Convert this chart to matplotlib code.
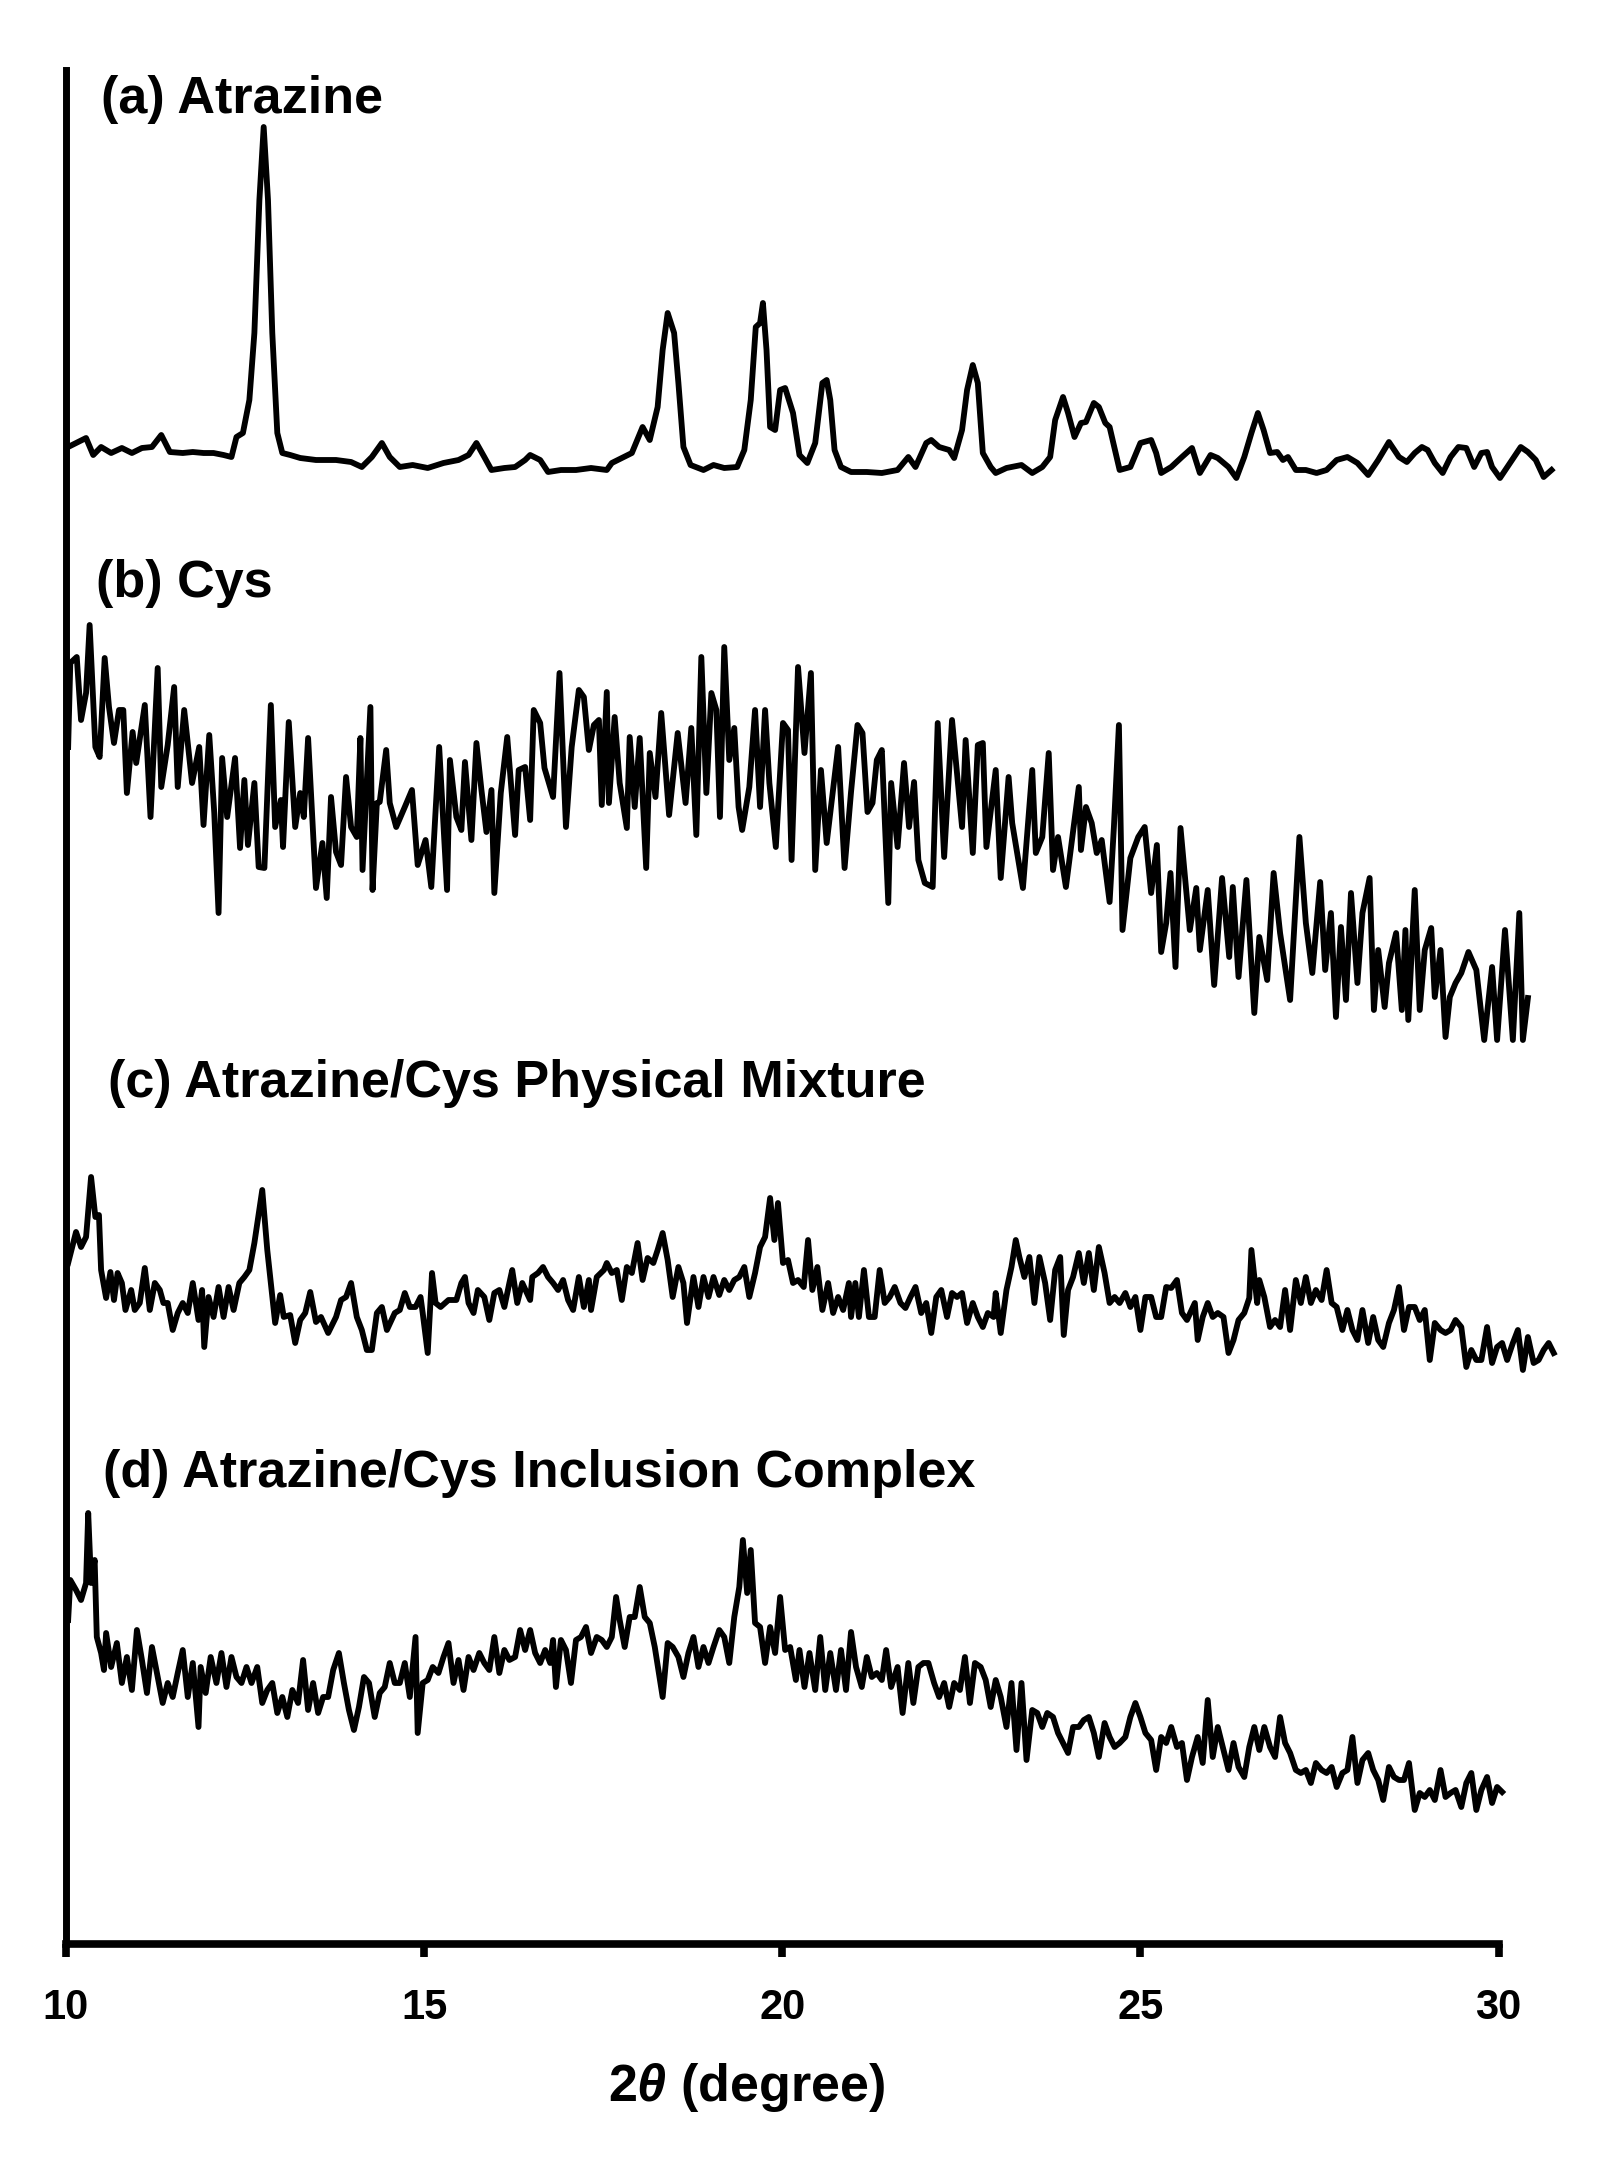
import numpy as np
import matplotlib
matplotlib.use("Agg")
import matplotlib.pyplot as plt

plt.rcParams['font.family'] = ['Liberation Sans', 'DejaVu Sans']
plt.rcParams['font.weight'] = 'bold'
plt.rcParams['mathtext.fontset'] = 'custom'
plt.rcParams['mathtext.rm'] = 'Liberation Sans:bold'
plt.rcParams['mathtext.it'] = 'Liberation Sans:italic:bold'
plt.rcParams['mathtext.bf'] = 'Liberation Sans:bold'

# XRD patterns (intensity in a.u., stacked with offsets)
tt_a = [10.03, 10.28, 10.38, 10.49, 10.63, 10.78, 10.92, 11.06, 11.20, 11.33, 11.45, 11.63, 11.77, 11.92,
        12.06, 12.20, 12.31, 12.38, 12.47, 12.56, 12.63, 12.70, 12.76, 12.82, 12.88, 12.95, 13.02, 13.13,
        13.27, 13.49, 13.77, 13.98, 14.13, 14.27, 14.41, 14.52, 14.66, 14.84, 15.05, 15.27, 15.48, 15.62,
        15.73, 15.84, 15.94, 16.12, 16.27, 16.41, 16.48, 16.62, 16.73, 16.91, 17.12, 17.33, 17.55, 17.62,
        17.76, 17.90, 18.05, 18.15, 18.26, 18.33, 18.40, 18.49, 18.55, 18.62, 18.72, 18.90, 19.04, 19.19,
        19.37, 19.47, 19.56, 19.63, 19.69, 19.73, 19.78, 19.83, 19.90, 19.97, 20.04, 20.15, 20.24,
        20.35, 20.46, 20.56, 20.62, 20.67, 20.73, 20.82, 20.96, 21.18, 21.39, 21.61, 21.76, 21.86, 22.01,
        22.08, 22.19, 22.33, 22.40, 22.51, 22.58, 22.66, 22.73, 22.80, 22.91, 22.98, 23.13, 23.34, 23.49,
        23.63, 23.74, 23.81, 23.92, 23.99, 24.08, 24.17, 24.24, 24.35, 24.42, 24.51, 24.57, 24.71, 24.86,
        25.00, 25.15, 25.22, 25.29, 25.43, 25.58, 25.72, 25.83, 25.98, 26.08, 26.23, 26.34, 26.45, 26.55,
        26.64, 26.72, 26.81, 26.91, 26.99, 27.06, 27.17, 27.31, 27.46, 27.60, 27.74, 27.89, 28.03, 28.18,
        28.32, 28.47, 28.61, 28.72, 28.83, 28.93, 29.01, 29.11, 29.22, 29.33, 29.44, 29.55, 29.66, 29.76,
        29.84, 29.91, 30.02, 30.16, 30.31, 30.41, 30.52, 30.63, 30.74]
int_a = [33, 42, 25, 33, 27, 32, 27, 32, 33, 45, 28, 27, 28, 27,
         27, 25, 23, 43, 47, 80, 147, 280, 353, 280, 147, 47, 27, 25,
         22, 20, 20, 18, 13, 23, 37, 23, 13, 15, 12, 17, 20, 25,
         37, 23, 10, 12, 13, 20, 25, 20, 8, 10, 10, 12, 10, 17,
         22, 27, 53, 40, 73, 130, 167, 147, 97, 33, 15, 10, 15, 12,
         13, 30, 80, 153, 157, 177, 130, 53, 50, 90, 92, 67, 25,
         17, 37, 97, 100, 80, 30, 13, 8, 8, 7, 10, 23, 13, 37,
         40, 33, 30, 22, 50, 90, 115, 97, 27, 13, 7, 12, 15, 7,
         13, 23, 60, 83, 67, 43, 57, 58, 77, 73, 57, 53, 10, 13,
         37, 40, 27, 7, 13, 23, 32, 7, 25, 22, 13, 2, 23, 47,
         67, 50, 27, 28, 20, 23, 10, 10, 7, 10, 20, 23, 17, 5,
         20, 38, 23, 18, 27, 33, 30, 17, 7, 23, 33, 32, 13, 27,
         28, 13, 2, 17, 33, 28, 20, 3, 10]

tt_b = [10.03, 10.06, 10.15, 10.21, 10.28, 10.33, 10.41, 10.47, 10.54, 10.60,
        10.67, 10.74, 10.80, 10.85, 10.93, 10.98, 11.10, 11.18, 11.28, 11.33,
        11.42, 11.51, 11.56, 11.65, 11.76, 11.86, 11.92, 12.00, 12.07, 12.13,
        12.18, 12.25, 12.36, 12.43, 12.49, 12.54, 12.63, 12.69, 12.77, 12.86,
        12.92, 13.00, 13.03, 13.11, 13.20, 13.27, 13.32, 13.38, 13.49, 13.58,
        13.64, 13.70, 13.77, 13.84, 13.91, 13.98, 14.06, 14.11, 14.14, 14.25,
        14.28, 14.34, 14.38, 14.47, 14.52, 14.61, 14.73, 14.83, 14.91, 15.02,
        15.10, 15.21, 15.32, 15.36, 15.45, 15.52, 15.57, 15.66, 15.73, 15.80,
        15.87, 15.94, 15.98, 16.07, 16.16, 16.27, 16.32, 16.41, 16.48, 16.53,
        16.62, 16.68, 16.80, 16.89, 16.98, 17.06, 17.16, 17.23, 17.30, 17.37,
        17.44, 17.48, 17.55, 17.58, 17.66, 17.73, 17.83, 17.87, 17.94, 18.01,
        18.10, 18.15, 18.23, 18.31, 18.42, 18.54, 18.65, 18.73, 18.80, 18.87,
        18.94, 19.01, 19.08, 19.13, 19.19, 19.26, 19.33, 19.39, 19.44, 19.54,
        19.62, 19.69, 19.76, 19.82, 19.91, 20.01, 20.08, 20.13, 20.22,
        20.31, 20.40, 20.46, 20.54, 20.62, 20.67, 20.78, 20.87, 20.96, 21.05,
        21.12, 21.19, 21.26, 21.32, 21.39, 21.48, 21.52, 21.61, 21.70, 21.77,
        21.84, 21.90, 21.99, 22.10, 22.17, 22.26, 22.37, 22.51, 22.56, 22.66,
        22.73, 22.80, 22.85, 22.98, 23.05, 23.16, 23.21, 23.36, 23.49, 23.54,
        23.63, 23.72, 23.78, 23.85, 23.96, 24.14, 24.17, 24.24, 24.32, 24.39,
        24.46, 24.57, 24.63, 24.70, 24.75, 24.86, 24.97, 25.06, 25.15, 25.23,
        25.29, 25.36, 25.42, 25.49, 25.56, 25.69, 25.78, 25.83, 25.94, 26.03,
        26.14, 26.24, 26.29, 26.37, 26.48, 26.59, 26.66, 26.77, 26.86, 26.95,
        27.09, 27.22, 27.31, 27.40, 27.51, 27.58, 27.66, 27.73, 27.80, 27.87,
        27.94, 28.03, 28.10, 28.20, 28.26, 28.32, 28.41, 28.47, 28.57, 28.65,
        28.70, 28.74, 28.83, 28.90, 28.97, 29.06, 29.11, 29.19, 29.26, 29.32,
        29.40, 29.48, 29.58, 29.69, 29.80, 29.91, 29.98, 30.09, 30.20, 30.29,
        30.34, 30.41]
int_b = [298, 382, 388, 325, 352, 420, 298, 288, 387, 338,
         302, 335, 335, 252, 313, 282, 340, 228, 377, 258,
         300, 358, 258, 335, 262, 298, 220, 310, 232, 132,
         287, 228, 287, 197, 265, 200, 262, 178, 177, 340,
         218, 245, 198, 323, 218, 252, 228, 307, 157, 202,
         147, 248, 193, 180, 268, 218, 208, 307, 175, 338,
         155, 242, 243, 295, 242, 218, 238, 255, 180, 205,
         158, 298, 155, 285, 228, 215, 283, 205, 302, 255,
         213, 255, 152, 252, 308, 210, 275, 278, 225, 335,
         322, 277, 248, 372, 218, 298, 355, 348, 295, 320,
         325, 240, 353, 242, 328, 262, 217, 308, 238, 307,
         177, 292, 248, 332, 230, 312, 242, 317, 210, 388,
         252, 352, 335, 228, 398, 285, 317, 238, 215, 258,
         335, 238, 335, 262, 198, 322, 315, 185, 378,
         292, 372, 175, 275, 202, 232, 298, 177, 253, 320,
         312, 233, 242, 285, 295, 142, 262, 198, 282, 218,
         263, 185, 162, 158, 322, 188, 325, 218, 305, 192,
         300, 302, 198, 275, 167, 268, 222, 157, 275, 192,
         208, 292, 175, 208, 158, 258, 195, 238, 222, 192,
         205, 143, 218, 320, 115, 187, 208, 218, 152, 200,
         93, 122, 172, 78, 217, 115, 157, 95, 155, 60,
         167, 88, 158, 68, 165, 32, 108, 65, 172, 112,
         45, 208, 122, 72, 163, 75, 132, 28, 118, 45,
         152, 62, 132, 167, 35, 95, 38, 82, 112, 35,
         115, 25, 155, 35, 95, 117, 48, 95, 8, 48,
         62, 72, 93, 75, 5, 78, 5, 115, 5, 132,
         5, 47]

tt_c = [10.03, 10.14, 10.21, 10.28, 10.35, 10.41, 10.46, 10.49, 10.56, 10.62,
        10.67, 10.72, 10.78, 10.83, 10.91, 10.96, 11.03, 11.10, 11.17, 11.24,
        11.31, 11.36, 11.42, 11.49, 11.56, 11.63, 11.70, 11.77, 11.85, 11.90,
        11.93, 11.99, 12.06, 12.13, 12.20, 12.27, 12.34, 12.42, 12.49, 12.56,
        12.63, 12.74, 12.81, 12.87, 12.92, 12.99, 13.04, 13.13, 13.20, 13.27,
        13.34, 13.41, 13.49, 13.56, 13.66, 13.77, 13.84, 13.91, 13.98, 14.06,
        14.13, 14.20, 14.27, 14.34, 14.41, 14.48, 14.59, 14.66, 14.73, 14.80,
        14.88, 14.95, 14.98, 15.05, 15.11, 15.16, 15.23, 15.34, 15.45, 15.52,
        15.57, 15.62, 15.69, 15.75, 15.84, 15.91, 15.98, 16.05, 16.12, 16.19,
        16.23, 16.30, 16.37, 16.48, 16.51, 16.59, 16.66, 16.73, 16.80, 16.87,
        16.94, 17.01, 17.08, 17.16, 17.23, 17.30, 17.33, 17.41, 17.51, 17.55,
        17.62, 17.69, 17.76, 17.83, 17.90, 17.98, 18.05, 18.12, 18.20, 18.26,
        18.33, 18.40, 18.47, 18.55, 18.62, 18.67, 18.76, 18.83, 18.90, 18.97,
        19.04, 19.12, 19.19, 19.26, 19.33, 19.40, 19.47, 19.54, 19.62, 19.69,
        19.76, 19.83, 19.89, 19.94, 20.01, 20.08, 20.15, 20.22,
        20.30, 20.36, 20.42, 20.49, 20.56, 20.64, 20.71, 20.78, 20.85, 20.93,
        20.96, 21.02, 21.07, 21.14, 21.21, 21.29, 21.36, 21.43, 21.50, 21.57,
        21.65, 21.72, 21.79, 21.86, 21.94, 22.01, 22.08, 22.15, 22.22, 22.30,
        22.37, 22.44, 22.51, 22.58, 22.66, 22.73, 22.80, 22.87, 22.95, 22.98,
        23.05, 23.13, 23.20, 23.26, 23.31, 23.38, 23.45, 23.52, 23.59, 23.67,
        23.74, 23.81, 23.88, 23.93, 23.99, 24.06, 24.14, 24.21, 24.28, 24.35,
        24.42, 24.50, 24.57, 24.64, 24.71, 24.79, 24.86, 24.93, 25.00, 25.07,
        25.15, 25.22, 25.29, 25.36, 25.43, 25.51, 25.58, 25.65, 25.76, 25.80,
        25.87, 25.94, 26.01, 26.08, 26.16, 26.23, 26.30, 26.37, 26.45, 26.52,
        26.55, 26.63, 26.66, 26.73, 26.81, 26.88, 26.95, 27.02, 27.09, 27.17,
        27.24, 27.31, 27.38, 27.45, 27.53, 27.60, 27.67, 27.74, 27.82, 27.89,
        27.96, 28.03, 28.10, 28.18, 28.25, 28.32, 28.39, 28.47, 28.54, 28.61,
        28.68, 28.75, 28.83, 28.90, 28.97, 29.04, 29.11, 29.19, 29.26, 29.33,
        29.40, 29.48, 29.55, 29.62, 29.69, 29.76, 29.84, 29.91, 29.98, 30.05,
        30.12, 30.20, 30.27, 30.34, 30.41, 30.49, 30.56, 30.63, 30.70, 30.77]
int_c = [107, 138, 123, 133, 193, 153, 155, 100, 72, 98,
         70, 97, 87, 60, 80, 60, 67, 102, 60, 87,
         80, 67, 67, 40, 57, 67, 57, 87, 50, 80,
         23, 73, 53, 83, 53, 83, 60, 87, 93, 100,
         127, 180, 120, 80, 47, 75, 53, 55, 27, 50,
         57, 78, 48, 53, 37, 53, 70, 73, 87, 53,
         40, 20, 20, 57, 63, 40, 57, 60, 77, 63,
         63, 73, 57, 17, 97, 67, 63, 70, 70, 87,
         93, 67, 57, 80, 73, 50, 77, 80, 63, 87,
         100, 67, 87, 70, 93, 97, 103, 93, 87, 80,
         90, 70, 60, 93, 63, 90, 60, 93, 100, 107,
         97, 100, 70, 103, 97, 127, 90, 112, 107, 120,
         137, 110, 73, 103, 87, 47, 93, 63, 93, 73,
         93, 75, 90, 80, 90, 93, 103, 73, 97, 123,
         133, 172, 130, 167, 107, 110, 87, 90,
         83, 130, 80, 103, 60, 87, 57, 73, 60, 87,
         53, 87, 53, 100, 53, 53, 100, 67, 73, 83,
         67, 62, 73, 83, 57, 67, 37, 73, 80, 53,
         77, 73, 77, 47, 67, 53, 43, 57, 53, 77,
         37, 80, 103, 130, 113, 93, 113, 67, 113, 87,
         50, 100, 113, 35, 80, 93, 117, 87, 117, 80,
         123, 97, 67, 73, 67, 77, 63, 73, 40, 73,
         73, 53, 53, 83, 82, 90, 57, 50, 67, 30,
         53, 67, 53, 57, 53, 17, 30, 50, 57, 72,
         120, 67, 90, 73, 43, 50, 43, 80, 40, 90,
         67, 93, 67, 80, 70, 100, 67, 63, 40, 60,
         40, 30, 60, 27, 53, 30, 23, 47, 60, 83,
         40, 63, 63, 50, 60, 10, 47, 40, 37, 40,
         50, 43, 3, 20, 10, 10, 43, 7, 23, 27,
         10, 27, 40, 0, 33, 7, 10, 20, 27, 17]

tt_d = [10.03, 10.06, 10.14, 10.21, 10.28, 10.31, 10.35, 10.40, 10.43, 10.49,
        10.53, 10.56, 10.63, 10.71, 10.78, 10.85, 10.92, 10.99, 11.06, 11.13,
        11.20, 11.28, 11.35, 11.42, 11.49, 11.56, 11.63, 11.70, 11.77, 11.85,
        11.88, 11.95, 12.02, 12.10, 12.17, 12.24, 12.31, 12.38, 12.45, 12.52,
        12.59, 12.67, 12.74, 12.81, 12.88, 12.95, 13.02, 13.09, 13.16, 13.24,
        13.31, 13.38, 13.45, 13.52, 13.59, 13.66, 13.73, 13.81, 13.88, 13.95,
        14.02, 14.09, 14.16, 14.23, 14.31, 14.38, 14.45, 14.52, 14.59, 14.66,
        14.73, 14.80, 14.88, 14.91, 14.98, 15.05, 15.12, 15.20, 15.27, 15.34,
        15.41, 15.48, 15.55, 15.62, 15.69, 15.77, 15.84, 15.91, 15.98, 16.05,
        16.12, 16.19, 16.27, 16.34, 16.41, 16.48, 16.55, 16.62, 16.69, 16.76,
        16.80, 16.84, 16.91, 16.98, 17.05, 17.12, 17.19, 17.26, 17.33, 17.41,
        17.48, 17.55, 17.62, 17.68, 17.73, 17.80, 17.87, 17.94, 18.01, 18.08,
        18.15, 18.22, 18.33, 18.40, 18.47, 18.55, 18.62, 18.69, 18.76, 18.83,
        18.90, 18.97, 19.04, 19.12, 19.19, 19.26, 19.33, 19.40, 19.45, 19.51,
        19.56, 19.62, 19.69, 19.76, 19.83, 19.90, 19.97, 20.04, 20.11, 20.19,
        20.24, 20.31, 20.38, 20.46, 20.53, 20.60, 20.67, 20.75, 20.82, 20.89,
        20.96, 21.03, 21.11, 21.18, 21.25, 21.32, 21.39, 21.45, 21.52, 21.61,
        21.68, 21.76, 21.83, 21.90, 21.97, 22.04, 22.12, 22.19, 22.26, 22.33,
        22.40, 22.48, 22.55, 22.62, 22.69, 22.77, 22.84, 22.91, 22.98, 23.05,
        23.13, 23.20, 23.27, 23.34, 23.41, 23.49, 23.56, 23.63, 23.70, 23.78,
        23.85, 23.92, 23.99, 24.06, 24.14, 24.21, 24.28, 24.35, 24.42, 24.50,
        24.57, 24.64, 24.71, 24.79, 24.86, 24.93, 25.00, 25.07, 25.15, 25.22,
        25.29, 25.36, 25.43, 25.51, 25.58, 25.65, 25.72, 25.80, 25.87, 25.94,
        26.01, 26.08, 26.16, 26.23, 26.30, 26.37, 26.45, 26.52, 26.59, 26.66,
        26.73, 26.81, 26.88, 26.95, 27.02, 27.09, 27.17, 27.24, 27.31, 27.38,
        27.45, 27.53, 27.60, 27.67, 27.74, 27.82, 27.89, 27.96, 28.03, 28.10,
        28.18, 28.25, 28.32, 28.39, 28.47, 28.54, 28.61, 28.68, 28.75, 28.83,
        28.90, 28.97, 29.04, 29.11, 29.19, 29.26, 29.33, 29.40, 29.48, 29.55,
        29.62, 29.69, 29.76, 29.84, 29.91, 29.98, 30.05]
int_d = [200, 240, 230, 220, 237, 307, 237, 260, 183, 167,
         150, 187, 153, 177, 137, 163, 130, 190, 160, 127,
         173, 143, 117, 137, 123, 147, 170, 123, 157, 93,
         153, 127, 163, 137, 167, 133, 163, 143, 137, 153,
         137, 153, 117, 130, 137, 107, 123, 103, 130, 117,
         160, 110, 137, 107, 123, 123, 150, 167, 137, 110,
         90, 113, 143, 137, 103, 127, 133, 157, 137, 137,
         157, 123, 183, 87, 137, 140, 153, 147, 163, 177,
         137, 160, 130, 163, 150, 167, 157, 150, 183, 147,
         170, 160, 163, 190, 170, 190, 167, 157, 170, 157,
         180, 133, 180, 170, 137, 180, 183, 193, 167, 183,
         180, 173, 183, 223, 200, 173, 203, 203, 233, 203,
         197, 173, 123, 177, 173, 163, 143, 167, 183, 153,
         173, 157, 173, 190, 183, 157, 203, 233, 280, 227,
         270, 197, 193, 157, 193, 167, 223, 170, 173, 140,
         170, 133, 167, 130, 183, 130, 167, 130, 170, 130,
         188, 153, 133, 163, 143, 147, 140, 170, 133, 153,
         107, 157, 117, 153, 157, 157, 137, 123, 137, 113,
         137, 130, 163, 117, 157, 153, 140, 113, 140, 123,
         93, 137, 70, 137, 60, 110, 107, 93, 107, 103,
         87, 77, 67, 93, 93, 100, 103, 87, 63, 97,
         83, 73, 77, 83, 103, 117, 103, 87, 80, 50,
         83, 77, 93, 73, 77, 40, 63, 83, 57, 120,
         63, 93, 70, 50, 77, 53, 43, 73, 93, 70,
         93, 73, 63, 103, 77, 67, 50, 47, 50, 37,
         57, 50, 47, 53, 33, 47, 50, 83, 37, 60,
         67, 50, 40, 20, 53, 43, 40, 40, 57, 10,
         27, 23, 30, 20, 50, 23, 27, 30, 13, 37,
         47, 10, 30, 43, 17, 33, 28]

patterns = [(tt_a, int_a), (tt_b, int_b), (tt_c, int_c), (tt_d, int_d)]
offsets = [1464, 899, 574, 124]
labels = ["(a) Atrazine", "(b) Cys", "(c) Atrazine/Cys Physical Mixture",
          "(d) Atrazine/Cys Inclusion Complex"]
label_pos = [(10.49, 1844), (10.42, 1361), (10.58, 861), (10.52, 471)]

fig = plt.figure(figsize=(16.1, 21.77), dpi=100)
ax = fig.add_axes([66 / 1610, (2177 - 1944) / 2177, (1563 - 66) / 1610, (1944 - 70) / 2177])

for (tt, inten), off in zip(patterns, offsets):
    ax.plot(tt, np.array(inten) + off, color='black', lw=4.2)

for lab, (lx, ly) in zip(labels, label_pos):
    ax.text(lx, ly, lab, fontsize=37.5, fontweight='bold', ha='left', va='center')

ax.set_xlim(10, 30.9)
ax.set_ylim(0, 1874)
ax.spines['top'].set_visible(False)
ax.spines['right'].set_visible(False)
ax.spines['left'].set_linewidth(5)
ax.spines['bottom'].set_linewidth(5.5)
ax.spines['bottom'].set_bounds(10, 30)
ax.set_yticks([])
ax.set_xticks([10, 15, 20, 25, 30])
ax.tick_params(axis='x', direction='out', length=9.5, width=5.5, labelsize=30, pad=22.5)
for t in ax.get_xticklabels():
    t.set_fontweight('bold')

ax.set_xlabel('2$\\mathit{θ}$ (degree)', fontsize=37.5, fontweight='bold')
ax.xaxis.label.set_verticalalignment('center')
ax.xaxis.set_label_coords((747 - 66) / (1563 - 66), -(2087 - 1944) / 1874)

fig.savefig("out.png", dpi=100)
